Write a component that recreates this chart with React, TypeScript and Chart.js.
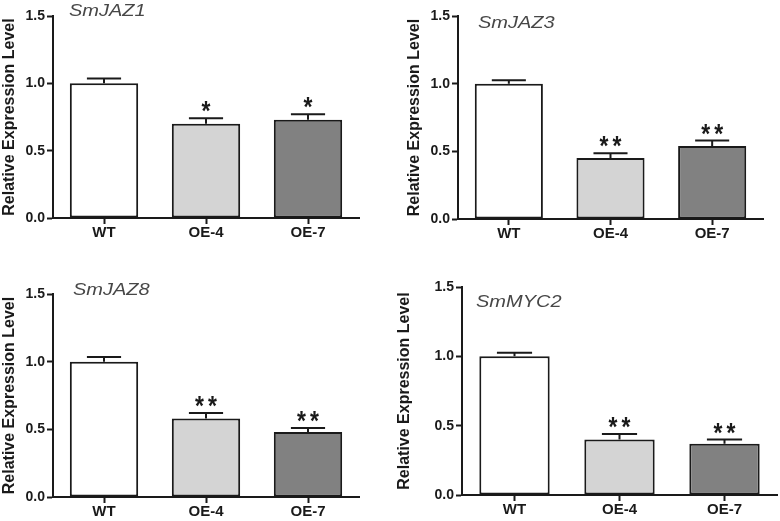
import React, { useEffect, useRef } from "react";
import { Chart, registerables } from "chart.js";

Chart.register(...registerables);
Chart.defaults.font.family = "'Liberation Sans', Arial, sans-serif";

const categories = ["WT", "OE-4", "OE-7"];
const barColors = ["#ffffff", "#d4d4d4", "#818181"];

const jaz1Values = [1.0, 0.7, 0.73];
const jaz1Errors = [0.035, 0.04, 0.04];
const jaz1Marks = ["", "*", "*"];

const jaz3Values = [1.0, 0.45, 0.54];
const jaz3Errors = [0.025, 0.035, 0.04];
const jaz3Marks = ["", "**", "**"];

const jaz8Values = [1.0, 0.58, 0.48];
const jaz8Errors = [0.035, 0.04, 0.03];
const jaz8Marks = ["", "**", "**"];

const myc2Values = [1.0, 0.4, 0.37];
const myc2Errors = [0.025, 0.04, 0.03];
const myc2Marks = ["", "**", "**"];

const yMin = 0;
const yMax = 1.5;
const yStep = 0.5;
const yAxisTitle = "Relative Expression Level";

const INK = "#1a1a1a";

type PanelCfg = {
  gene: string;
  values: number[];
  errors: number[];
  marks: string[];
  box: { x: number; y: number; w: number; h: number };
  area: { left: number; right: number; top: number; bottom: number };
  padLeft: number;
  titlePos: [number, number];
};

const panels: PanelCfg[] = [
  {
    gene: "SmJAZ1",
    values: jaz1Values,
    errors: jaz1Errors,
    marks: jaz1Marks,
    box: { x: 0, y: 0, w: 390, h: 260 },
    area: { left: 53, right: 359, top: 16, bottom: 218 },
    padLeft: 0,
    titlePos: [69, 16],
  },
  {
    gene: "SmJAZ3",
    values: jaz3Values,
    errors: jaz3Errors,
    marks: jaz3Marks,
    box: { x: 390, y: 0, w: 390, h: 260 },
    area: { left: 68, right: 373, top: 16, bottom: 219 },
    padLeft: 15,
    titlePos: [88, 28],
  },
  {
    gene: "SmJAZ8",
    values: jaz8Values,
    errors: jaz8Errors,
    marks: jaz8Marks,
    box: { x: 0, y: 260, w: 390, h: 261 },
    area: { left: 53, right: 359, top: 34, bottom: 237 },
    padLeft: 0,
    titlePos: [73, 35],
  },
  {
    gene: "SmMYC2",
    values: myc2Values,
    errors: myc2Errors,
    marks: myc2Marks,
    box: { x: 390, y: 260, w: 390, h: 261 },
    area: { left: 72, right: 387, top: 27, bottom: 235 },
    padLeft: 5,
    titlePos: [86, 47],
  },
];

function Panel({ cfg }: { cfg: PanelCfg }) {
  const ref = useRef<HTMLCanvasElement>(null);

  useEffect(() => {
    const canvas = ref.current!;
    const annot = {
      id: "annot",
      afterDatasetsDraw(chart: any) {
        const ctx = chart.ctx as CanvasRenderingContext2D;
        const meta = chart.getDatasetMeta(0);
        const ys = chart.scales.y;
        ctx.save();
        ctx.strokeStyle = INK;
        ctx.lineWidth = 2;
        ctx.fillStyle = INK;
        ctx.font = "bold 27px 'Liberation Sans', Arial, sans-serif";
        ctx.textAlign = "center";
        ctx.textBaseline = "alphabetic";
        meta.data.forEach((bar: any, i: number) => {
          const x = bar.x;
          const w = bar.width;
          const top = ys.getPixelForValue(cfg.values[i]);
          const capY = ys.getPixelForValue(cfg.values[i] + cfg.errors[i]);
          ctx.beginPath();
          ctx.moveTo(x, top);
          ctx.lineTo(x, capY);
          ctx.moveTo(x - w / 4, capY);
          ctx.lineTo(x + w / 4, capY);
          ctx.stroke();
          const mark = cfg.marks[i];
          if (mark) {
            const m = ctx.measureText("*");
            const base = capY - 6 - m.actualBoundingBoxDescent;
            const n = mark.length;
            for (let k = 0; k < n; k++) {
              const dx = (k - (n - 1) / 2) * 13;
              ctx.save();
              ctx.translate(x + dx, base);
              ctx.scale(0.85, 1);
              ctx.fillText("*", 0, 0);
              ctx.restore();
            }
          }
        });
        ctx.fillStyle = "#474747";
        ctx.font = "italic 16px 'Liberation Sans', Arial, sans-serif";
        ctx.textAlign = "left";
        ctx.translate(cfg.titlePos[0], cfg.titlePos[1]);
        ctx.scale(1.25, 1);
        ctx.fillText(cfg.gene, 0, 0);
        ctx.restore();
      },
    };

    const chart = new Chart(canvas, {
      type: "bar",
      data: {
        labels: categories,
        datasets: [
          {
            data: cfg.values,
            backgroundColor: barColors,
            borderColor: INK,
            borderWidth: 2,
            borderSkipped: false,
            barPercentage: 0.67,
            categoryPercentage: 1,
          },
        ],
      },
      options: {
        responsive: false,
        animation: false,
        devicePixelRatio: 1,
        events: [],
        layout: {
          padding: {
            left: cfg.padLeft,
            right: cfg.box.w - cfg.area.right,
            top: cfg.area.top,
            bottom: 0,
          },
        },
        plugins: {
          legend: { display: false },
          tooltip: { enabled: false },
          title: { display: false },
        },
        scales: {
          x: {
            grid: {
              display: true,
              drawOnChartArea: false,
              offset: false,
              tickLength: 6,
              tickWidth: 2,
              tickColor: INK,
            },
            border: { display: true, color: INK, width: 2 },
            ticks: {
              color: INK,
              font: { size: 15, weight: "bold" },
              padding: 0,
            },
            afterFit: (s: any) => {
              s.height = cfg.box.h - cfg.area.bottom;
            },
          },
          y: {
            min: yMin,
            max: yMax,
            ticks: {
              stepSize: yStep,
              callback: (v: any) => Number(v).toFixed(1),
              color: INK,
              font: { size: 14, weight: "bold" },
              padding: 2,
            },
            grid: {
              display: true,
              drawOnChartArea: false,
              tickLength: 6,
              tickWidth: 2,
              tickColor: INK,
            },
            border: { display: true, color: INK, width: 2 },
            title: {
              display: true,
              text: yAxisTitle,
              color: INK,
              font: { size: 16, weight: "bold" },
              padding: 0,
            },
            afterFit: (s: any) => {
              s.width = cfg.area.left - cfg.padLeft;
            },
          },
        },
      } as any,
      plugins: [annot],
    });
    return () => chart.destroy();
  }, [cfg]);

  return (
    <canvas
      ref={ref}
      width={cfg.box.w}
      height={cfg.box.h}
      style={{
        position: "absolute",
        left: cfg.box.x,
        top: cfg.box.y,
        width: cfg.box.w,
        height: cfg.box.h,
      }}
    />
  );
}

export default function App() {
  return (
    <div
      style={{
        position: "fixed",
        left: 0,
        top: 0,
        width: 780,
        height: 521,
        background: "#ffffff",
        overflow: "hidden",
      }}
    >
      {panels.map((p) => (
        <Panel key={p.gene} cfg={p} />
      ))}
    </div>
  );
}
